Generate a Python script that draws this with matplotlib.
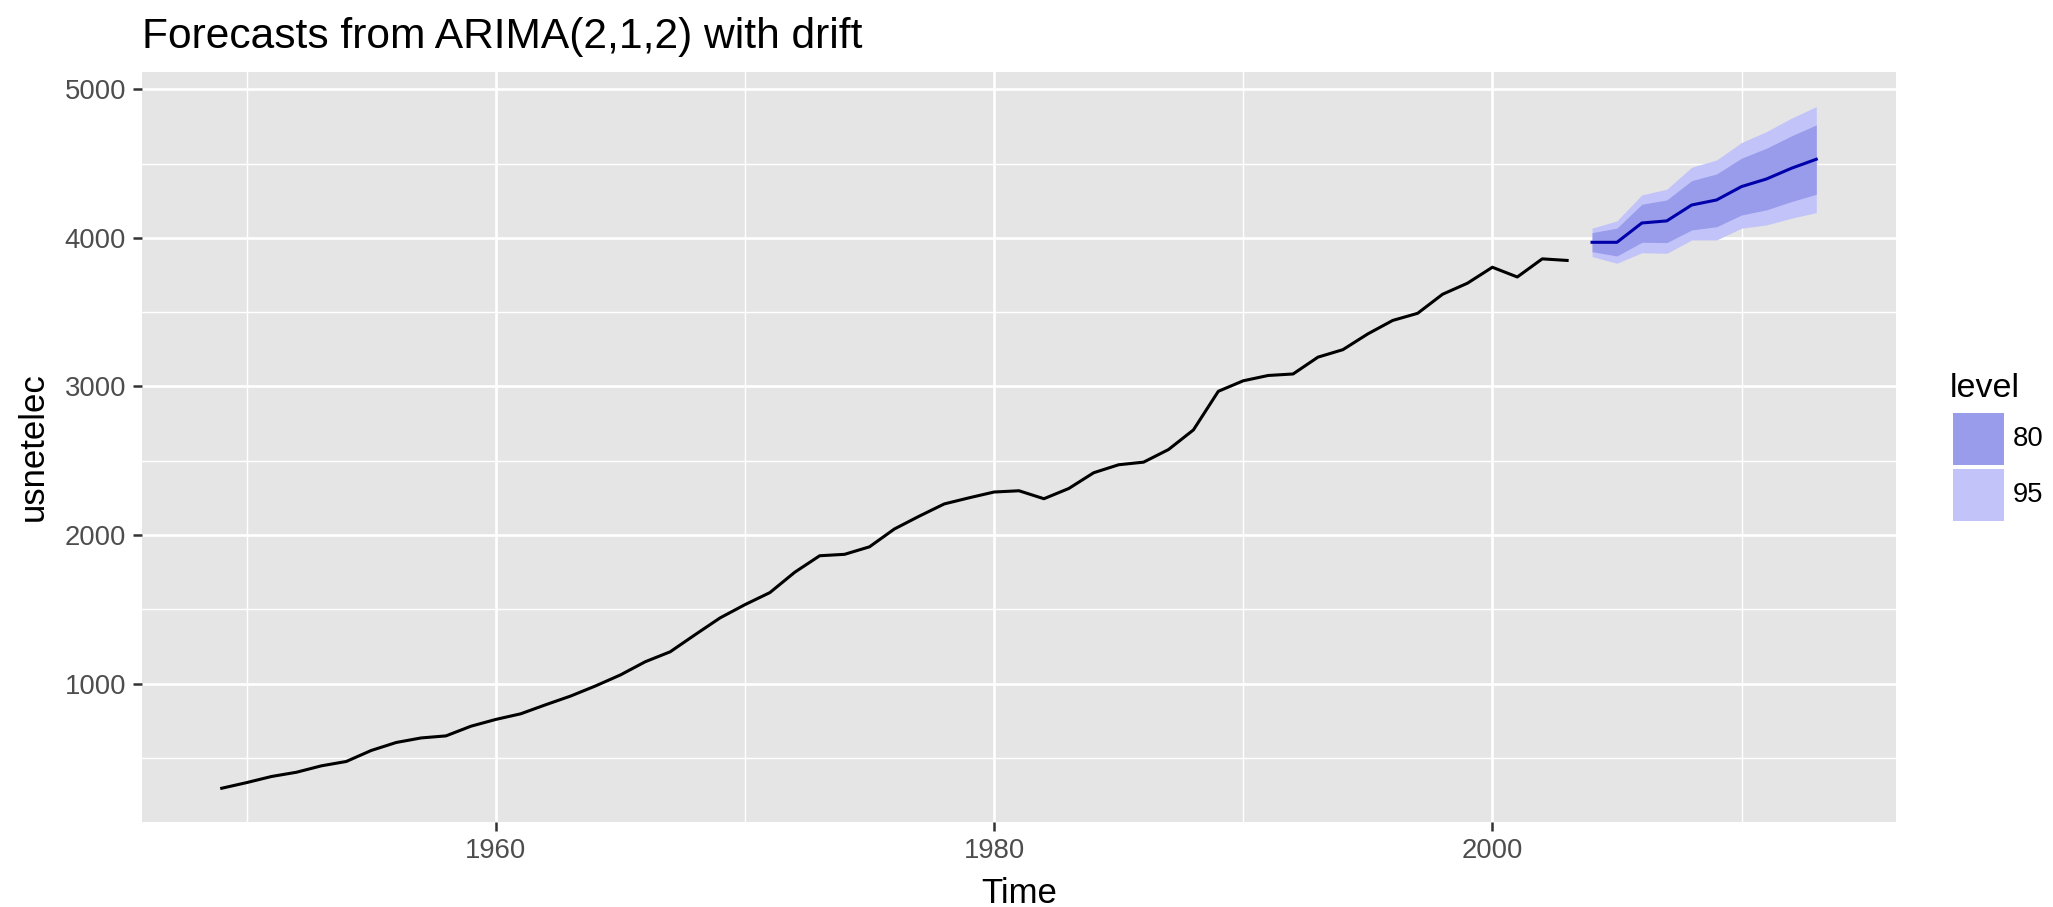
import numpy as np
import matplotlib
matplotlib.use("Agg")
import matplotlib.pyplot as plt
from matplotlib.patches import Rectangle

plt.rcParams['font.family'] = ['Liberation Sans', 'DejaVu Sans']

# observed series, 1949-2003
years = np.arange(1949, 2004)
usnetelec = [296.1, 334.1, 375.3, 403.8, 447.0, 476.3, 550.3, 603.9, 634.6, 648.5,
             713.4, 759.2, 797.1, 857.9, 916.3, 984.4, 1058.4, 1147.5, 1214.4, 1329.4,
             1442.2, 1531.6, 1612.6, 1749.8, 1860.7, 1870.3, 1920.8, 2040.9, 2127.4, 2209.4,
             2250.7, 2289.6, 2298.0, 2244.4, 2313.4, 2419.5, 2473.0, 2490.5, 2575.3, 2707.4,
             2967.3, 3038.0, 3073.8, 3083.9, 3197.2, 3247.5, 3353.5, 3444.2, 3492.2, 3620.3,
             3694.8, 3802.1, 3736.6, 3858.5, 3848.0]

# forecasts 2004-2013
fc_years = np.arange(2004, 2014)
fc_mean = [3970, 3970, 4100, 4114, 4221, 4255, 4345, 4396, 4468, 4529]
lo80 = [3907, 3878, 3970, 3968, 4053, 4075, 4154, 4188, 4244, 4293]
hi80 = [4035, 4065, 4226, 4255, 4385, 4430, 4536, 4603, 4686, 4760]
lo95 = [3874, 3829, 3900, 3896, 3986, 3986, 4065, 4087, 4132, 4170]
hi95 = [4065, 4114, 4289, 4327, 4475, 4524, 4641, 4715, 4805, 4883]

levels = ["80", "95"]
col80 = "#999CEA"
col95 = "#C1C3F9"

W, H = 2053, 907
fig = plt.figure(figsize=(W/100, H/100), dpi=100)
ax = fig.add_axes([142/W, 1-822/H, (1896-142)/W, (822-72)/H])
ax.set_facecolor("#E5E5E5")
for s in ax.spines.values():
    s.set_visible(False)

ax.fill_between(fc_years, lo95, hi95, color=col95, lw=0, zorder=2)
ax.fill_between(fc_years, lo80, hi80, color=col80, lw=0, zorder=3)
ax.plot(years, usnetelec, color="black", lw=2.2, zorder=4)
ax.plot(fc_years, fc_mean, color="#0000AA", lw=2.2, zorder=4)

ax.set_xlim(1945.8, 2016.2)
ax.set_ylim(69, 5116)
ax.set_xticks([1960, 1980, 2000])
ax.set_xticks([1950, 1970, 1990, 2010], minor=True)
ax.set_yticks([1000, 2000, 3000, 4000, 5000])
ax.set_yticks([500, 1500, 2500, 3500, 4500], minor=True)
ax.grid(which="major", color="white", lw=1.9, zorder=1)
ax.grid(which="minor", color="white", lw=1.0, zorder=1)
ax.set_axisbelow(True)
ax.tick_params(which="major", length=6.5, width=1.8, color="#333333",
               labelsize=19.8, labelcolor="#4D4D4D", pad=5)
ax.tick_params(which="minor", length=0)

fig.text(142/W, 1-48/H, "Forecasts from ARIMA(2,1,2) with drift",
         fontsize=30.6, ha="left", va="baseline")
fig.text(1019/W, 1-903/H, "Time", fontsize=25, ha="center", va="baseline")
fig.text(33/W, 1-447/H, "usnetelec", fontsize=25, rotation=90,
         ha="center", va="center")

# legend drawn by hand (ggplot style)
fig.text(1950/W, 1-397/H, "level", fontsize=24.5, ha="left", va="baseline")
for i, (lab, c) in enumerate(zip(levels, [col80, col95])):
    top = 413 + i*56
    fig.add_artist(Rectangle((1953/W, 1-(top+52)/H), 51/W, 52/H,
                             transform=fig.transFigure, facecolor=c,
                             edgecolor="none"))
    fig.text(2013/W, 1-(top+26)/H, lab, fontsize=19.8, ha="left", va="center")

fig.savefig("out.png", dpi=100)
